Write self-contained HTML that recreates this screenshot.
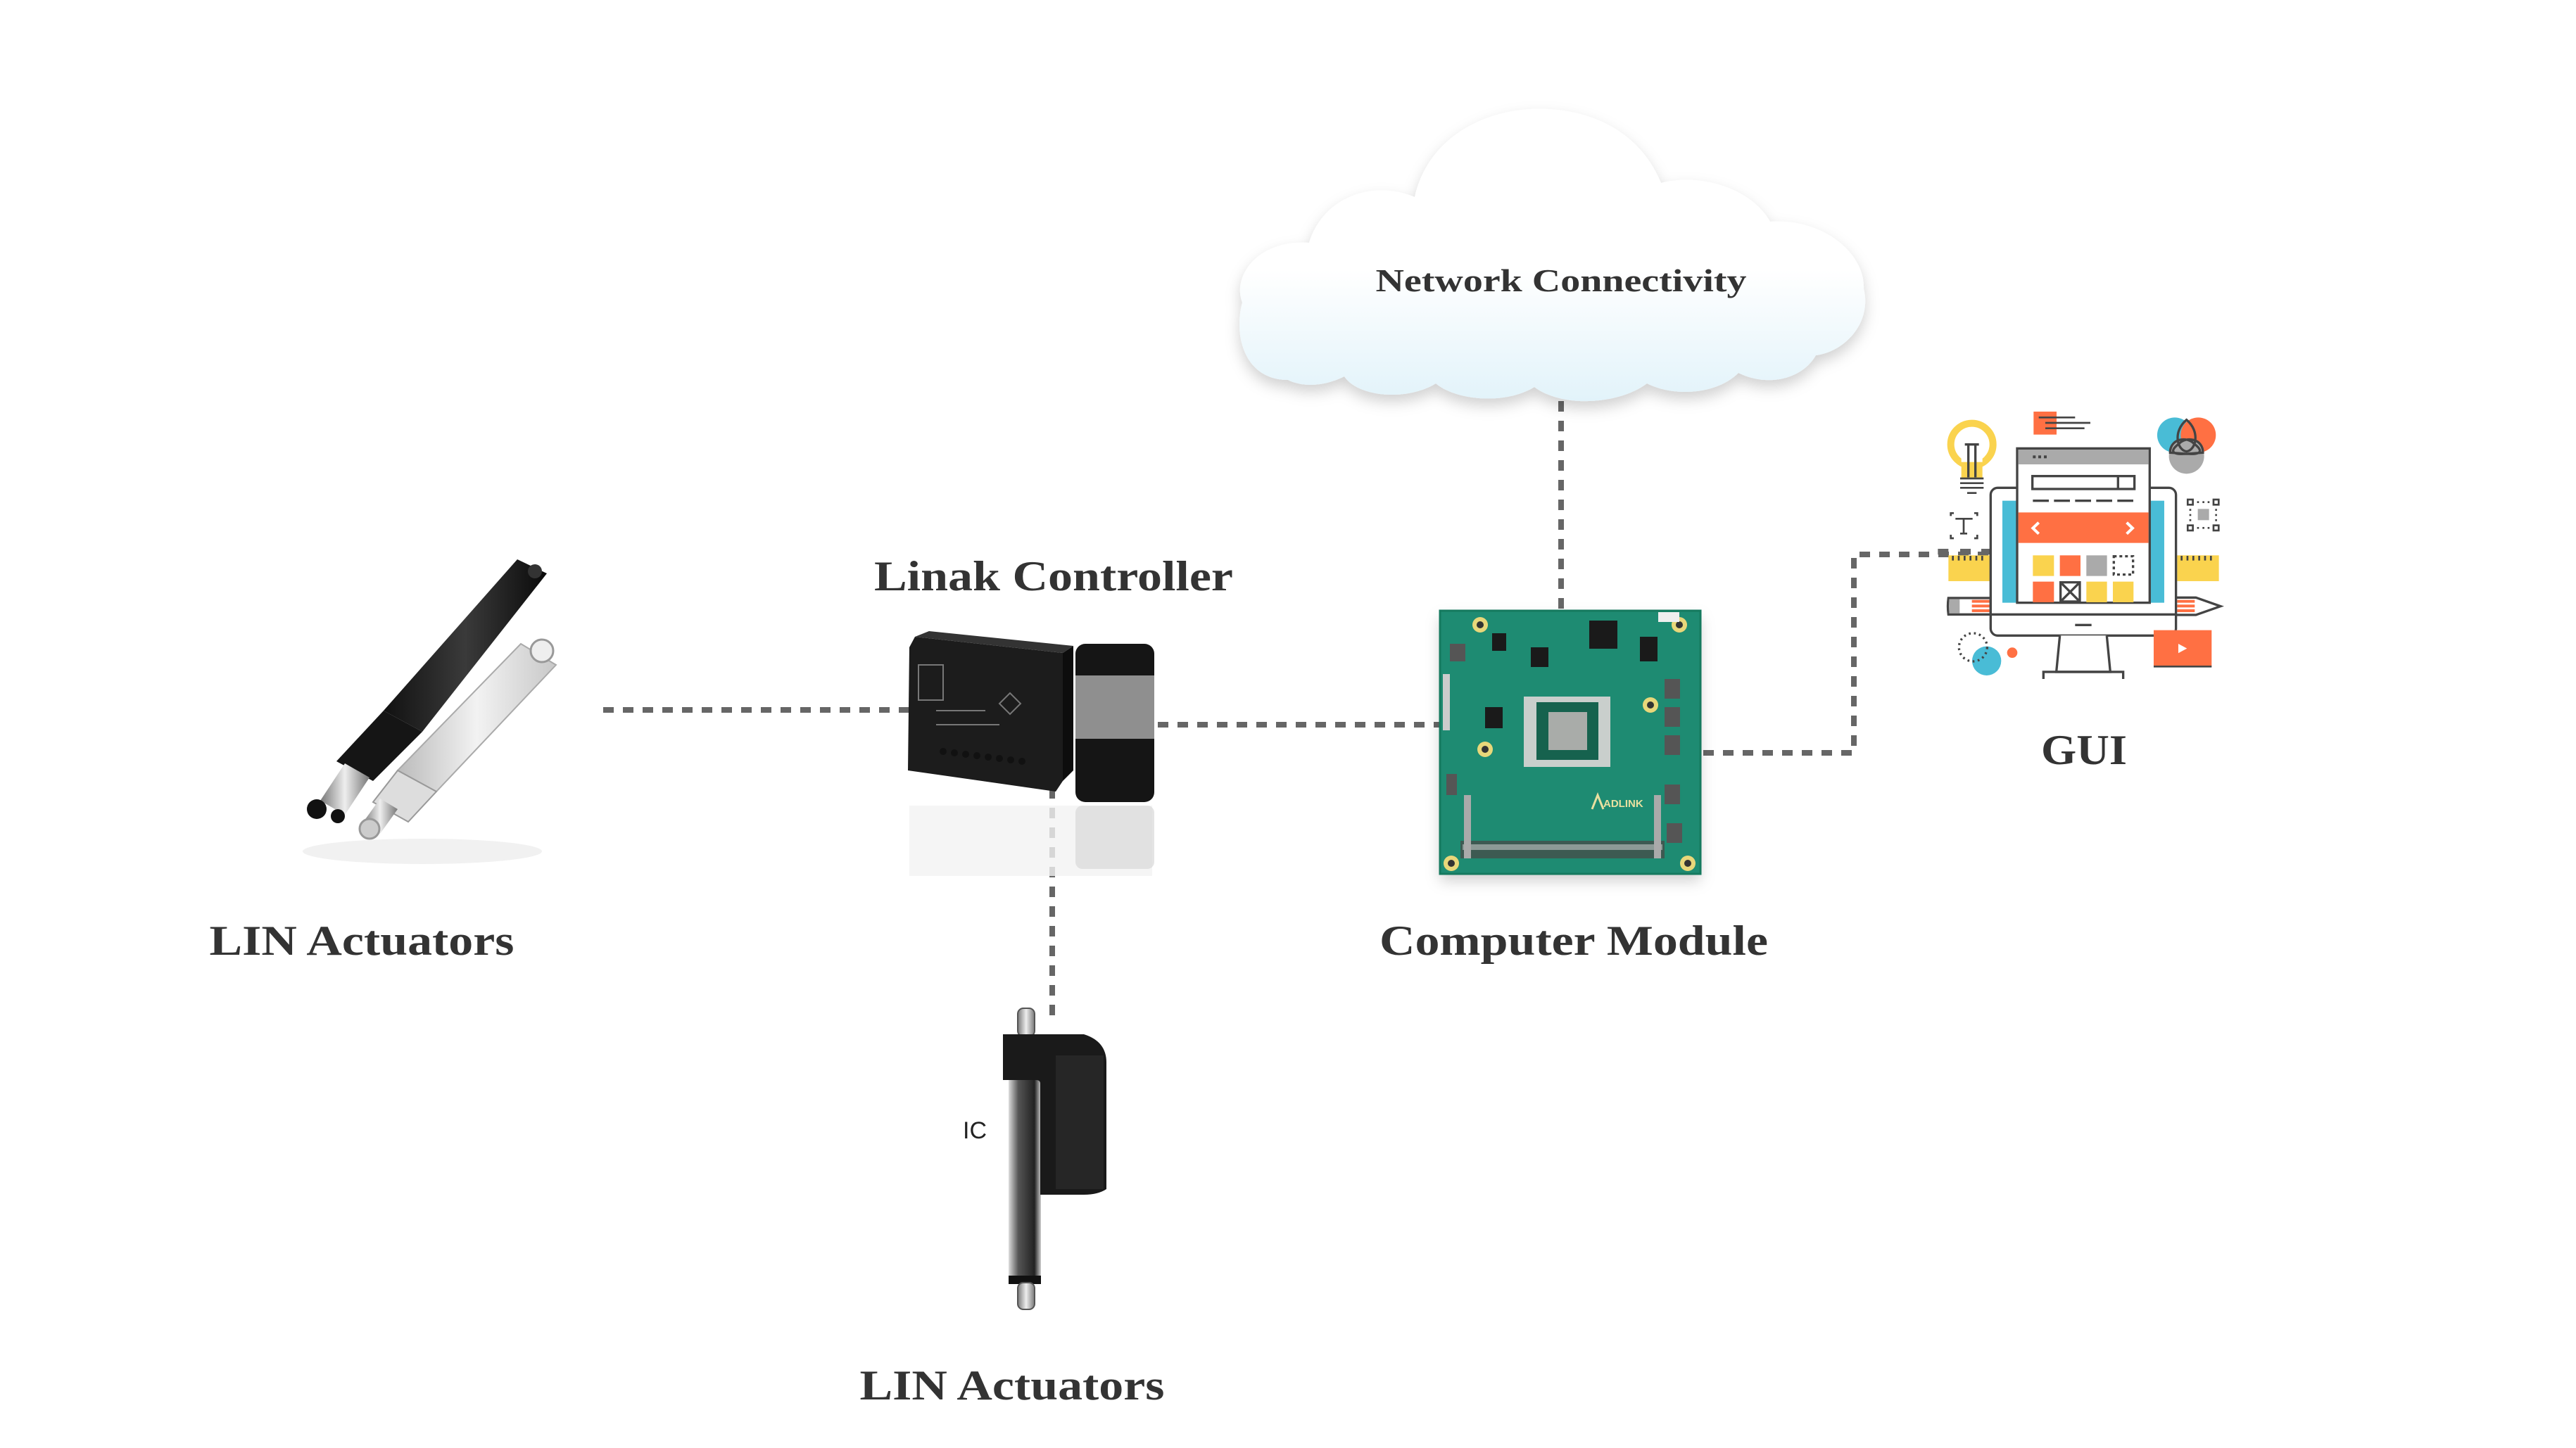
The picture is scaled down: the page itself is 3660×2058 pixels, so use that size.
<!DOCTYPE html>
<html><head><meta charset="utf-8"><style>
html,body{margin:0;padding:0;background:#fff;}
body{width:3660px;height:2058px;position:relative;overflow:hidden;}
svg{position:absolute;left:0;top:0;}
.t{font-family:"Liberation Serif",serif;font-weight:bold;fill:#333;}
</style></head><body>
<svg width="3660" height="2058" viewBox="0 0 3660 2058">
<defs>
<linearGradient id="cl" x1="0" y1="0" x2="0" y2="1"><stop offset="0.55" stop-color="#fff"/><stop offset="1" stop-color="#e2f3fa"/></linearGradient>
<linearGradient id="blk" x1="0" y1="0" x2="1" y2="0"><stop offset="0" stop-color="#111"/><stop offset="0.5" stop-color="#3a3a3a"/><stop offset="1" stop-color="#0a0a0a"/></linearGradient>
<linearGradient id="wht" x1="0" y1="0" x2="1" y2="0"><stop offset="0" stop-color="#bbb"/><stop offset="0.5" stop-color="#f2f2f2"/><stop offset="1" stop-color="#c8c8c8"/></linearGradient>
<linearGradient id="met" x1="0" y1="0" x2="1" y2="0"><stop offset="0" stop-color="#777"/><stop offset="0.5" stop-color="#eee"/><stop offset="1" stop-color="#777"/></linearGradient>
<linearGradient id="tube" x1="0" y1="0" x2="1" y2="0"><stop offset="0" stop-color="#ddd"/><stop offset="0.3" stop-color="#555"/><stop offset="0.8" stop-color="#222"/><stop offset="1" stop-color="#ccc"/></linearGradient>
<filter id="sh" x="-10%" y="-10%" width="120%" height="130%"><feDropShadow dx="0" dy="10" stdDeviation="10" flood-color="#000" flood-opacity="0.18"/></filter>
</defs>

<g stroke="#666" stroke-width="8" stroke-dasharray="15 13" fill="none">
<line x1="857" y1="1009" x2="1300" y2="1009"/>
<line x1="1645" y1="1030" x2="2048" y2="1030"/>
<line x1="1495" y1="1120" x2="1495" y2="1455"/>
<line x1="2218" y1="570" x2="2218" y2="866"/>
<polyline points="2420,1070 2634,1070 2634,788 2840,788"/>
</g>

<g filter="url(#sh)">
<path fill="url(#cl)" d="M1830,540 C1770,540 1752,480 1765,430 C1750,390 1790,340 1860,345 C1880,280 1950,255 2010,280 C2030,190 2120,150 2200,155 C2290,160 2340,210 2360,260 C2420,245 2490,270 2515,315 C2590,310 2650,360 2648,410 C2660,460 2620,500 2580,505 C2560,540 2510,550 2470,530 C2440,560 2380,565 2340,545 C2300,575 2220,580 2180,550 C2140,575 2070,570 2040,545 C2000,570 1930,565 1910,535 C1880,550 1850,550 1830,540 Z"/>
</g>
<text class="t" x="2218" y="414" font-size="46" text-anchor="middle" textLength="527" lengthAdjust="spacingAndGlyphs">Network Connectivity</text>

<g>
<polygon points="740,915 790,945 620,1125 565,1095" fill="url(#wht)" stroke="#aaa" stroke-width="2"/>
<polygon points="565,1095 620,1125 580,1168 530,1140" fill="#ddd" stroke="#999" stroke-width="2"/>
<polygon points="540,1135 565,1150 540,1185 515,1170" fill="url(#met)"/>
<circle cx="525" cy="1178" r="14" fill="#ccc" stroke="#999" stroke-width="3"/>
<circle cx="770" cy="925" r="16" fill="#eee" stroke="#999" stroke-width="3"/>
<polygon points="735,795 777,815 600,1040 545,1010" fill="url(#blk)"/>
<polygon points="545,1010 600,1040 530,1110 478,1082" fill="#151515"/>
<polygon points="490,1085 525,1105 490,1158 455,1138" fill="url(#met)"/>
<circle cx="450" cy="1150" r="14" fill="#111"/>
<circle cx="480" cy="1160" r="10" fill="#111"/>
<circle cx="760" cy="812" r="10" fill="#333"/>
<ellipse cx="600" cy="1210" rx="170" ry="18" fill="#f1f1f1"/>
</g>
<text class="t" x="514" y="1357" font-size="60" text-anchor="middle" textLength="433" lengthAdjust="spacingAndGlyphs">LIN Actuators</text>

<text class="t" x="1497" y="839" font-size="60" text-anchor="middle" textLength="510" lengthAdjust="spacingAndGlyphs">Linak Controller</text>
<g>
<polygon points="1292,920 1300,905 1510,928 1510,1110 1500,1125 1290,1095" fill="#1c1c1c"/>
<polygon points="1300,905 1320,897 1525,918 1510,928" fill="#333"/>
<polygon points="1510,928 1525,918 1525,1095 1510,1110" fill="#0d0d0d"/>
<g fill="#111"><circle cx="1340" cy="1068" r="5"/><circle cx="1356" cy="1070" r="5"/><circle cx="1372" cy="1072" r="5"/><circle cx="1388" cy="1074" r="5"/><circle cx="1404" cy="1076" r="5"/><circle cx="1420" cy="1078" r="5"/><circle cx="1436" cy="1080" r="5"/><circle cx="1452" cy="1082" r="5"/></g>
<g stroke="#777" stroke-width="2" fill="none"><rect x="1305" y="945" width="35" height="50"/><line x1="1330" y1="1010" x2="1400" y2="1010"/><line x1="1330" y1="1030" x2="1420" y2="1030"/><polygon points="1420,1000 1435,985 1450,1000 1435,1015"/></g>
<rect x="1528" y="915" width="112" height="225" rx="14" fill="#151515"/>
<rect x="1528" y="960" width="112" height="90" fill="#8f8f8f"/>
<rect x="1292" y="1145" width="345" height="100" fill="#f2f2f2" opacity="0.8"/>
<rect x="1528" y="1145" width="112" height="90" rx="10" fill="#d8d8d8" opacity="0.7"/>
</g>

<g>
<rect x="1446" y="1433" width="24" height="40" rx="8" fill="url(#met)" stroke="#555" stroke-width="2"/>
<rect x="1433" y="1510" width="46" height="315" fill="url(#tube)"/>
<rect x="1433" y="1813" width="46" height="12" fill="#111"/>
<rect x="1446" y="1823" width="24" height="38" rx="8" fill="url(#met)" stroke="#555" stroke-width="2"/>
<path d="M1425,1470 L1540,1470 Q1572,1480 1572,1510 L1572,1690 Q1560,1698 1540,1698 L1478,1698 L1478,1540 Q1478,1535 1472,1535 L1425,1535 Z" fill="#1a1a1a"/>
<rect x="1500" y="1500" width="68" height="190" fill="#262626"/>
<text x="1368" y="1618" font-family="Liberation Sans,sans-serif" font-size="34" fill="#222">IC</text>
</g>
<text class="t" x="1438" y="1989" font-size="60" text-anchor="middle" textLength="433" lengthAdjust="spacingAndGlyphs">LIN Actuators</text>

<g filter="url(#sh)">
<rect x="2046" y="868" width="370" height="374" fill="#1f8a70"/>
</g>
<g>
<rect x="2046" y="868" width="370" height="374" fill="#1e8b72" stroke="#157a5f" stroke-width="3"/>
<g fill="#e8d77a"><circle cx="2103" cy="888" r="11"/><circle cx="2386" cy="888" r="11"/><circle cx="2345" cy="1002" r="11"/><circle cx="2110" cy="1065" r="11"/><circle cx="2062" cy="1227" r="11"/><circle cx="2398" cy="1227" r="11"/></g>
<g fill="#333"><circle cx="2103" cy="888" r="5"/><circle cx="2386" cy="888" r="5"/><circle cx="2345" cy="1002" r="5"/><circle cx="2110" cy="1065" r="5"/><circle cx="2062" cy="1227" r="5"/><circle cx="2398" cy="1227" r="5"/></g>
<rect x="2165" y="990" width="123" height="100" fill="#c9cfcc"/>
<rect x="2183" y="998" width="88" height="82" fill="#16624e"/>
<rect x="2200" y="1012" width="55" height="54" fill="#a9aca9"/>
<rect x="2258" y="882" width="40" height="40" fill="#1a1a1a"/>
<rect x="2175" y="920" width="25" height="28" fill="#1a1a1a"/>
<rect x="2120" y="900" width="20" height="25" fill="#1a1a1a"/>
<rect x="2110" y="1005" width="25" height="30" fill="#1a1a1a"/>
<rect x="2330" y="905" width="25" height="35" fill="#1a1a1a"/>
<g fill="#555"><rect x="2060" y="915" width="22" height="25"/><rect x="2365" y="965" width="22" height="28"/><rect x="2365" y="1005" width="22" height="28"/><rect x="2365" y="1045" width="22" height="28"/><rect x="2365" y="1115" width="22" height="28"/><rect x="2368" y="1170" width="22" height="28"/><rect x="2055" y="1100" width="15" height="30"/></g>
<rect x="2050" y="958" width="10" height="80" fill="#ccc"/>
<rect x="2075" y="1195" width="290" height="25" fill="#3d5a52"/>
<rect x="2078" y="1200" width="284" height="8" fill="#8c9a96"/>
<rect x="2080" y="1130" width="10" height="90" fill="#aaa"/>
<rect x="2350" y="1130" width="10" height="90" fill="#aaa"/>
<rect x="2356" y="870" width="30" height="14" fill="#eee"/>
<text x="2278" y="1147" font-family="Liberation Sans,sans-serif" font-weight="bold" font-size="15" fill="#e8e0a0">ADLINK</text>
<path d="M2262,1150 L2270,1130 L2278,1150" stroke="#e8e0a0" stroke-width="3" fill="none"/>
</g>
<text class="t" x="2236" y="1357" font-size="60" text-anchor="middle" textLength="552" lengthAdjust="spacingAndGlyphs">Computer Module</text>

<g transform="translate(2740,560) scale(0.3333)">
<rect x="85" y="688" width="180" height="110" fill="#fad34e"/>
<rect x="1060" y="688" width="178" height="110" fill="#fad34e"/>
<g fill="#444"><rect x="100" y="690" width="8" height="20"/><rect x="125" y="690" width="8" height="20"/><rect x="150" y="690" width="8" height="20"/><rect x="175" y="690" width="8" height="20"/><rect x="200" y="690" width="8" height="20"/><rect x="225" y="690" width="8" height="20"/><rect x="1075" y="690" width="8" height="20"/><rect x="1100" y="690" width="8" height="20"/><rect x="1125" y="690" width="8" height="20"/><rect x="1150" y="690" width="8" height="20"/><rect x="1175" y="690" width="8" height="20"/><rect x="1200" y="690" width="8" height="20"/></g>
<g fill="#666"><rect x="40" y="660" width="45" height="25"/><rect x="135" y="660" width="45" height="25"/><rect x="225" y="660" width="40" height="25"/></g>
<path d="M85,870 L265,870 L265,940 L85,940 Q80,905 85,870Z" fill="#fff" stroke="#444" stroke-width="10"/>
<rect x="88" y="875" width="45" height="60" fill="#aaa"/>
<g fill="#ff7043"><rect x="185" y="878" width="75" height="12"/><rect x="185" y="898" width="75" height="12"/><rect x="185" y="918" width="75" height="12"/><rect x="1060" y="878" width="75" height="12"/><rect x="1060" y="898" width="75" height="12"/><rect x="1060" y="918" width="75" height="12"/></g>
<path d="M1055,868 L1140,868 L1245,905 L1140,942 L1055,942" fill="none" stroke="#444" stroke-width="10"/>
<rect x="265" y="400" width="790" height="630" rx="30" fill="#fff" stroke="#444" stroke-width="10"/>
<line x1="265" y1="940" x2="1055" y2="940" stroke="#444" stroke-width="10"/>
<rect x="315" y="455" width="60" height="435" fill="#49bcd6"/>
<rect x="945" y="455" width="60" height="435" fill="#49bcd6"/>
<rect x="625" y="980" width="70" height="10" fill="#444"/>
<path d="M560,1030 L545,1185 L775,1185 L760,1030" fill="#fff" stroke="#444" stroke-width="10"/>
<path d="M490,1215 L490,1185 L830,1185 L830,1215" fill="none" stroke="#444" stroke-width="10"/>
<rect x="378" y="232" width="565" height="658" fill="#fff" stroke="#444" stroke-width="10"/>
<rect x="383" y="237" width="555" height="63" fill="#aaa"/>
<g fill="#444"><rect x="445" y="262" width="12" height="12"/><rect x="468" y="262" width="12" height="12"/><rect x="492" y="262" width="12" height="12"/></g>
<rect x="443" y="350" width="435" height="55" fill="#fff" stroke="#444" stroke-width="10"/>
<line x1="808" y1="350" x2="808" y2="405" stroke="#444" stroke-width="10"/>
<line x1="445" y1="455" x2="875" y2="455" stroke="#444" stroke-width="10" stroke-dasharray="68 22"/>
<rect x="383" y="505" width="555" height="130" fill="#ff7043"/>
<path d="M470,548 L445,572 L470,596 M845,548 L870,572 L845,596" stroke="#fff" stroke-width="12" fill="none"/>
<rect x="445" y="688" width="90" height="88" fill="#fad34e"/>
<rect x="560" y="688" width="88" height="88" fill="#ff7043"/>
<rect x="673" y="688" width="88" height="88" fill="#aaa"/>
<rect x="790" y="692" width="82" height="78" fill="none" stroke="#444" stroke-width="10" stroke-dasharray="12 12"/>
<rect x="445" y="800" width="90" height="88" fill="#ff7043"/>
<rect x="563" y="803" width="82" height="82" fill="#fff" stroke="#444" stroke-width="10"/>
<path d="M568,808 L640,880 M640,808 L568,880" stroke="#444" stroke-width="10"/>
<rect x="673" y="800" width="88" height="88" fill="#fad34e"/>
<rect x="786" y="800" width="88" height="88" fill="#fad34e"/>
<circle cx="185" cy="215" r="90" fill="none" stroke="#fad34e" stroke-width="30"/>
<rect x="140" y="280" width="90" height="80" fill="#fad34e"/>
<rect x="140" y="230" width="90" height="60" fill="#fff"/>
<path d="M170,215 L170,355 M200,215 L200,355 M155,215 L215,215" stroke="#444" stroke-width="10"/>
<g stroke="#444" stroke-width="8"><line x1="135" y1="360" x2="235" y2="360"/><line x1="135" y1="380" x2="235" y2="380"/><line x1="135" y1="400" x2="235" y2="400"/><line x1="165" y1="422" x2="205" y2="422"/></g>
<path d="M95,520 L95,508 L108,508 M195,508 L208,508 L208,520 M95,600 L95,615 L108,615 M195,615 L208,615 L208,600 M115,532 L188,532 M150,532 L150,595 M135,595 L165,595" stroke="#444" stroke-width="8" fill="none"/>
<rect x="448" y="75" width="98" height="98" fill="#ff7043"/>
<g stroke="#444" stroke-width="8"><line x1="470" y1="100" x2="625" y2="100"/><line x1="498" y1="123" x2="690" y2="123"/><line x1="498" y1="146" x2="665" y2="146"/></g>
<circle cx="1050" cy="175" r="75" fill="#49bcd6"/>
<circle cx="1150" cy="175" r="75" fill="#ff7043"/>
<circle cx="1100" cy="265" r="75" fill="#aaa"/>
<path d="M1100,110 C1040,160 1060,240 1100,245 C1140,240 1160,160 1100,110Z M1030,250 C1030,190 1100,180 1130,210 C1170,240 1170,260 1100,255 Z M1170,250 C1170,190 1100,180 1070,210 C1030,240 1030,260 1100,255Z" fill="none" stroke="#444" stroke-width="10"/>
<g fill="none" stroke="#444" stroke-width="8"><rect x="1105" y="450" width="22" height="22"/><rect x="1215" y="450" width="22" height="22"/><rect x="1105" y="560" width="22" height="22"/><rect x="1215" y="560" width="22" height="22"/></g>
<rect x="1148" y="490" width="48" height="48" fill="#aaa"/>
<g fill="#444"><rect x="1145" y="457" width="8" height="8"/><rect x="1168" y="457" width="8" height="8"/><rect x="1190" y="457" width="8" height="8"/><rect x="1145" y="567" width="8" height="8"/><rect x="1168" y="567" width="8" height="8"/><rect x="1190" y="567" width="8" height="8"/><rect x="1112" y="490" width="8" height="8"/><rect x="1112" y="512" width="8" height="8"/><rect x="1112" y="534" width="8" height="8"/><rect x="1222" y="490" width="8" height="8"/><rect x="1222" y="512" width="8" height="8"/><rect x="1222" y="534" width="8" height="8"/></g>
<circle cx="248" cy="1138" r="62" fill="#49bcd6"/>
<circle cx="190" cy="1080" r="60" fill="none" stroke="#444" stroke-width="10" stroke-dasharray="8 14"/>
<circle cx="357" cy="1103" r="22" fill="#ff7043"/>
<rect x="960" y="1007" width="247" height="155" fill="#ff7043"/>
<line x1="960" y1="1162" x2="1207" y2="1162" stroke="#444" stroke-width="8"/>
<polygon points="1065,1065 1102,1085 1065,1105" fill="#fff"/>
</g>
<text class="t" x="2961" y="1086" font-size="60" text-anchor="middle" textLength="122" lengthAdjust="spacingAndGlyphs">GUI</text>
</svg>
</body></html>
